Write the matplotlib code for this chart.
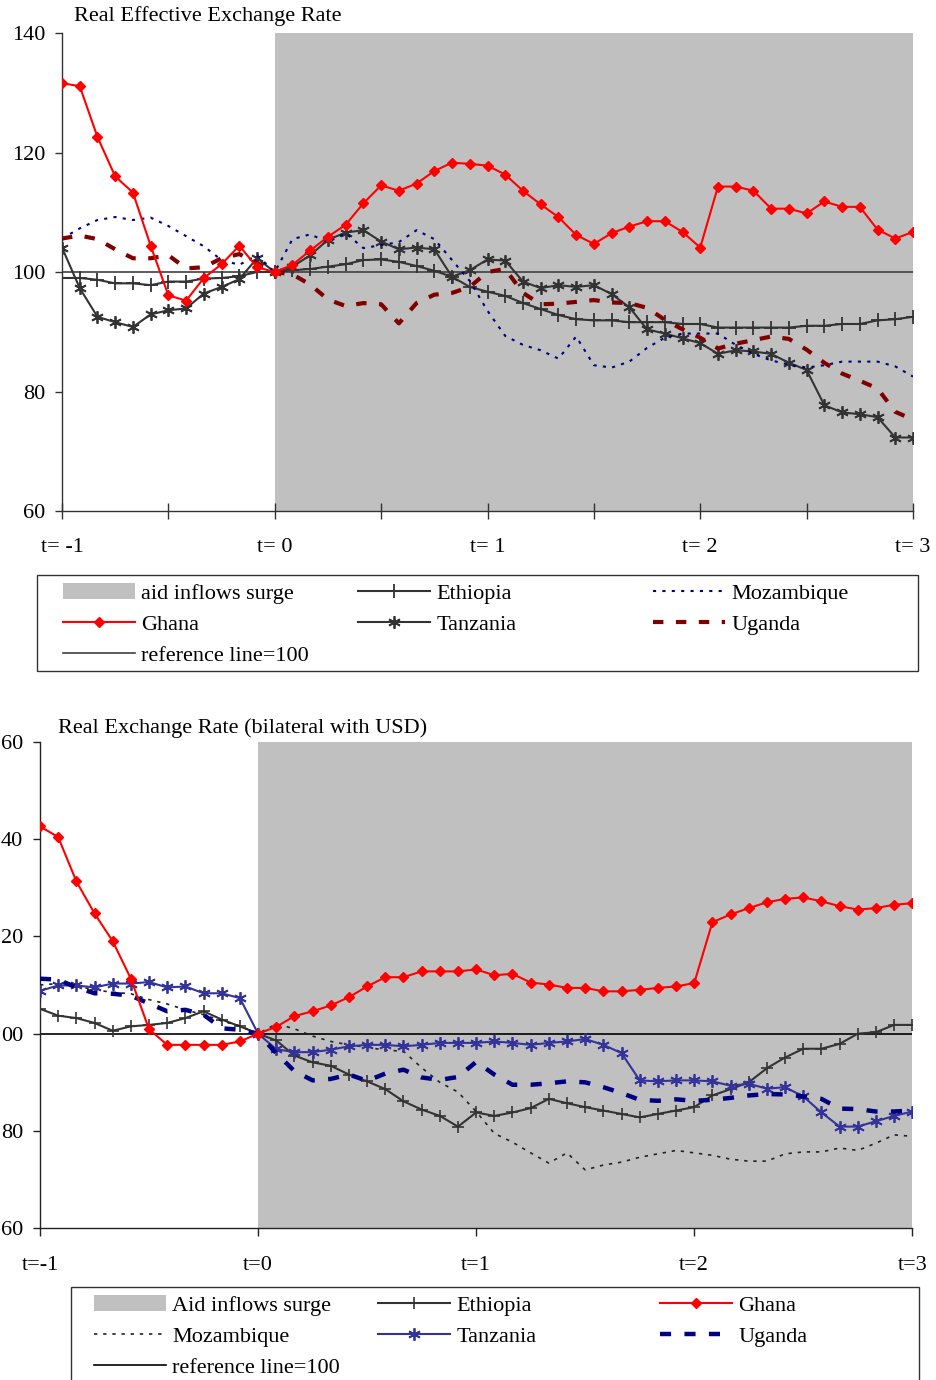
import numpy as np
import matplotlib
matplotlib.use('Agg')
import matplotlib.pyplot as plt
from matplotlib.patches import Rectangle
from matplotlib.ticker import FuncFormatter

plt.rcParams['font.family'] = ['Liberation Serif', 'DejaVu Serif']

# months around the start of the aid surge (t=0), monthly from t=-1 to t=3
months = np.arange(-12, 37)
t = months / 12.0

# Real Effective Exchange Rate (index, t=0 -> 100)
reer_ethiopia = [99.0, 99.0, 98.7, 98.1, 98.1, 97.8, 98.4, 98.4, 98.9, 99.0, 99.3, 100.0,
                 100.0, 100.3, 100.5, 100.9, 101.3, 102.0, 102.1, 101.7, 101.0, 100.2, 99.2, 97.5,
                 96.7, 96.0, 94.8, 93.8, 92.8, 92.1, 91.9, 91.9, 91.6, 91.6, 91.6, 91.3,
                 91.3, 90.7, 90.7, 90.7, 90.7, 90.7, 91.0, 91.0, 91.3, 91.3, 91.9, 92.1,
                 92.5]
reer_ghana = [131.6, 131.1, 122.6, 116.0, 113.3, 104.4, 96.1, 95.2, 99.0, 101.3, 104.4, 100.8,
              100.0, 101.2, 103.6, 105.9, 107.9, 111.5, 114.5, 113.6, 114.8, 116.9, 118.3, 118.1,
              117.8, 116.3, 113.6, 111.3, 109.2, 106.2, 104.7, 106.5, 107.6, 108.5, 108.5, 106.7,
              104.1, 114.3, 114.3, 113.6, 110.6, 110.6, 109.8, 111.8, 110.9, 110.9, 107.1, 105.6,
              106.7]
reer_tanzania = [104.1, 97.3, 92.5, 91.6, 90.8, 92.9, 93.6, 93.9, 96.4, 97.5, 98.8, 102.3,
                 100.0, 100.9, 102.8, 105.4, 106.6, 107.0, 105.1, 103.8, 104.1, 103.8, 99.2, 100.3,
                 102.1, 101.9, 98.4, 97.3, 97.8, 97.5, 97.8, 96.3, 94.1, 90.4, 89.7, 88.9,
                 88.1, 86.3, 86.9, 86.7, 86.3, 84.8, 83.6, 77.7, 76.5, 76.2, 75.7, 72.3,
                 72.3]
reer_mozambique = [105.6, 107.3, 108.7, 109.2, 108.7, 109.1, 107.7, 106.0, 104.3, 102.0, 101.2, 102.8,
                   100.0, 105.5, 106.3, 105.0, 106.5, 104.0, 104.5, 105.0, 107.0, 105.5, 102.0, 98.5,
                   93.5, 89.3, 87.8, 86.9, 85.5, 89.2, 84.4, 84.0, 85.0, 87.3, 89.0, 89.7,
                   89.7, 89.7, 87.8, 86.3, 85.2, 84.5, 84.0, 84.4, 85.0, 85.0, 85.0, 84.2,
                   82.5]
reer_uganda = [105.6, 106.1, 105.5, 103.8, 102.3, 102.3, 102.8, 100.6, 100.8, 102.3, 103.0, 101.5,
               100.0, 99.6, 97.9, 95.4, 94.3, 94.8, 94.6, 91.4, 94.8, 96.2, 96.5, 97.5,
               100.0, 100.5, 96.5, 94.6, 94.7, 95.0, 95.3, 94.9, 94.8, 94.0, 92.0, 90.4,
               89.0, 87.2, 88.0, 88.6, 89.2, 88.8, 87.0, 84.8, 83.0, 81.8, 80.5, 76.6,
               75.3]

# Real Exchange Rate, bilateral with USD (index, t=0 -> 100)
rer_ethiopia = [105.1, 103.7, 103.2, 102.2, 100.6, 101.5, 101.8, 102.2, 103.2, 104.6, 102.9, 101.5,
                100.0, 98.6, 95.5, 94.1, 93.4, 91.6, 90.2, 88.6, 86.1, 84.4, 83.1, 80.9,
                83.8, 83.1, 83.8, 84.7, 86.6, 85.7, 84.9, 84.2, 83.5, 82.8, 83.5, 84.2,
                84.9, 87.3, 88.6, 90.0, 92.9, 95.1, 96.9, 96.9, 97.9, 100.0, 100.3, 101.8,
                101.8]
rer_ghana = [142.6, 140.4, 131.3, 124.7, 119.0, 111.3, 100.9, 97.7, 97.7, 97.7, 97.7, 98.4,
             100.0, 101.4, 103.6, 104.6, 105.8, 107.5, 109.7, 111.6, 111.6, 112.8, 112.8, 112.8,
             113.2, 112.0, 112.3, 110.5, 110.1, 109.4, 109.4, 108.7, 108.7, 109.0, 109.4, 109.7,
             110.4, 122.9, 124.5, 125.8, 127.0, 127.7, 128.0, 127.2, 126.2, 125.5, 125.8, 126.5,
             126.8]
rer_mozambique = [110.0, 110.3, 109.8, 109.0, 108.5, 108.2, 107.0, 106.1, 104.9, 103.9, 102.6, 101.6,
                  100.0, 102.0, 101.0, 99.5, 98.4, 97.7, 97.2, 96.6, 96.4, 93.0, 90.0, 88.0,
                  84.0, 79.5, 77.7, 75.5, 73.4, 75.5, 72.0, 73.0, 73.6, 74.6, 75.3, 76.0,
                  75.5, 75.0, 74.2, 73.8, 73.8, 75.3, 75.7, 75.7, 76.5, 76.0, 77.5, 79.2,
                  78.9]
rer_tanzania = [108.8, 109.9, 109.9, 109.5, 110.3, 110.3, 110.6, 109.5, 109.7, 108.3, 108.3, 107.3,
                100.0, 96.8, 96.2, 96.2, 96.7, 97.4, 97.7, 97.7, 97.4, 97.7, 98.1, 98.1,
                98.1, 98.4, 98.1, 97.7, 98.1, 98.4, 98.9, 97.7, 96.0, 90.4, 90.2, 90.4,
                90.4, 90.2, 89.3, 89.7, 88.7, 89.0, 87.1, 83.8, 80.9, 80.9, 82.0, 83.1,
                84.0]
rer_uganda = [111.3, 111.1, 109.5, 108.3, 108.2, 107.8, 106.2, 104.6, 104.9, 103.9, 101.1, 100.8,
              100.0, 96.0, 92.3, 90.4, 90.7, 91.6, 90.3, 91.8, 92.6, 91.0, 90.5, 91.1,
              94.2, 91.6, 89.5, 89.5, 89.8, 90.2, 90.0, 89.0, 87.8, 86.4, 86.2, 86.5,
              86.2, 86.4, 86.8, 87.3, 87.6, 87.5, 87.1, 86.6, 84.6, 84.5, 84.0, 84.0,
              84.2]

year_ticks = [-1, 0, 1, 2, 3]
top_xlabels = ['t= -1', 't= 0', 't= 1', 't= 2', 't= 3']
bottom_xlabels = ['t=-1', 't=0', 't=1', 't=2', 't=3']

W, H = 936, 1380
FS = 16


def fx(px):
    return px / W


def fy(py):
    return 1 - py / H


fig = plt.figure(figsize=(W / 100, H / 100), dpi=100)

# ---------------- top panel ----------------
ax1 = fig.add_axes([fx(62), fy(511), (913 - 62) / W, (511 - 33) / H])
surge1 = ax1.axvspan(0, 3, color='#C0C0C0', lw=0, zorder=0)
ref1, = ax1.plot([-1, 3], [100, 100], color='#404040', lw=1.2, zorder=1)
eth1, = ax1.plot(t, reer_ethiopia, color='#333333', lw=1.5, marker='+', ms=10, mew=1.3, zorder=3)
gha1, = ax1.plot(t, reer_ghana, color='red', lw=1.5, marker='D', ms=5.5, zorder=5)
tan1, = ax1.plot(t, reer_tanzania, color='#333333', lw=1.5, marker=(6, 2, 0), ms=9, mew=1.3, zorder=3)
moz1, = ax1.plot(t, reer_mozambique, color='#000080', lw=1.5, ls=(0, (1.5, 3)), zorder=4)
uga1, = ax1.plot(t, reer_uganda, color='#800000', lw=3, ls=(0, (2.5, 3)), zorder=4)

ax1.set_xlim(-1, 3)
ax1.set_ylim(60, 140)
ax1.set_yticks([60, 80, 100, 120, 140])
ax1.set_xticks(year_ticks)
ax1.set_xticklabels(top_xlabels)
ax1.set_xticks([-0.5, 0.5, 1.5, 2.5], minor=True)
ax1.tick_params(axis='x', which='both', direction='inout', length=11, width=1, color='#333333', pad=14, labelsize=FS)
ax1.tick_params(axis='y', direction='out', length=5, width=1, color='#333333', pad=7, labelsize=FS)
for s in ['top', 'right']:
    ax1.spines[s].set_visible(False)
for s in ['left', 'bottom']:
    ax1.spines[s].set_color('#333333')
    ax1.spines[s].set_linewidth(1)
fig.text(fx(74), fy(16), 'Real Effective Exchange Rate', fontsize=FS, ha='left', va='center')

# ---------------- bottom panel ----------------
ax2 = fig.add_axes([fx(40), fy(1228.3), (912.3 - 40) / W, (1228.3 - 741.7) / H])
surge2 = ax2.axvspan(0, 3, color='#C0C0C0', lw=0, zorder=0)
ref2, = ax2.plot([-1, 3], [100, 100], color='black', lw=1.2, zorder=1)
eth2, = ax2.plot(t, rer_ethiopia, color='#333333', lw=1.5, marker='+', ms=9, mew=1.2, zorder=3)
gha2, = ax2.plot(t, rer_ghana, color='red', lw=1.5, marker='D', ms=5.5, zorder=5)
moz2, = ax2.plot(t, rer_mozambique, color='#222222', lw=1.2, ls=(0, (2, 3.5)), zorder=3)
tan2, = ax2.plot(t, rer_tanzania, color='#333399', lw=1.5, marker=(6, 2, 0), ms=9, mew=1.3, zorder=4)
uga2, = ax2.plot(t, rer_uganda, color='#000080', lw=3.2, ls=(0, (2.5, 3)), zorder=4)

ax2.set_xlim(-1, 3)
ax2.set_ylim(60, 160)
ax2.set_yticks([60, 80, 100, 120, 140, 160])
# the source only shows the last two digits of these labels
ax2.yaxis.set_major_formatter(FuncFormatter(lambda v, pos: f'{int(round(v)) % 100:02d}'))
ax2.set_xticks(year_ticks)
ax2.set_xticklabels(bottom_xlabels)
ax2.tick_params(axis='x', direction='out', length=6, width=1, color='#222222', pad=14, labelsize=FS)
ax2.tick_params(axis='y', direction='out', length=5, width=1, color='#222222', pad=7, labelsize=FS)
for s in ['top', 'right']:
    ax2.spines[s].set_visible(False)
for s in ['left', 'bottom']:
    ax2.spines[s].set_color('#222222')
    ax2.spines[s].set_linewidth(1)
fig.text(fx(58), fy(728), 'Real Exchange Rate (bilateral with USD)', fontsize=FS, ha='left', va='center')


# ---------------- legends ----------------
def column_legend(handles, labels, x_px, y_px):
    leg = fig.legend(handles, labels, loc='upper left',
                     bbox_to_anchor=(fx(x_px), fy(y_px)), bbox_transform=fig.transFigure,
                     frameon=False, borderpad=0, borderaxespad=0, handlelength=3.25,
                     handletextpad=0.28, labelspacing=0.48, numpoints=1, fontsize=FS)
    return leg


column_legend([surge1, gha1, ref1], ['aid inflows surge', 'Ghana', 'reference line=100'], 63, 583)
column_legend([eth1, tan1], ['Ethiopia', 'Tanzania'], 358, 583)
column_legend([moz1, uga1], ['Mozambique', 'Uganda'], 653, 583)
fig.add_artist(Rectangle((fx(37), fy(671)), (918 - 37) / W, (671 - 575) / H,
                         transform=fig.transFigure, fill=False, edgecolor='#333333', lw=1))

column_legend([surge2, moz2, ref2], ['Aid inflows surge', 'Mozambique', 'reference line=100'], 94, 1295)
column_legend([eth2, tan2], ['Ethiopia', 'Tanzania'], 378, 1295)
column_legend([gha2, uga2], ['Ghana', 'Uganda'], 660, 1295)
fig.add_artist(Rectangle((fx(71), fy(1420)), (919 - 71) / W, (1420 - 1287) / H,
                         transform=fig.transFigure, fill=False, edgecolor='#333333', lw=1))

fig.savefig('out.png', dpi=100)
